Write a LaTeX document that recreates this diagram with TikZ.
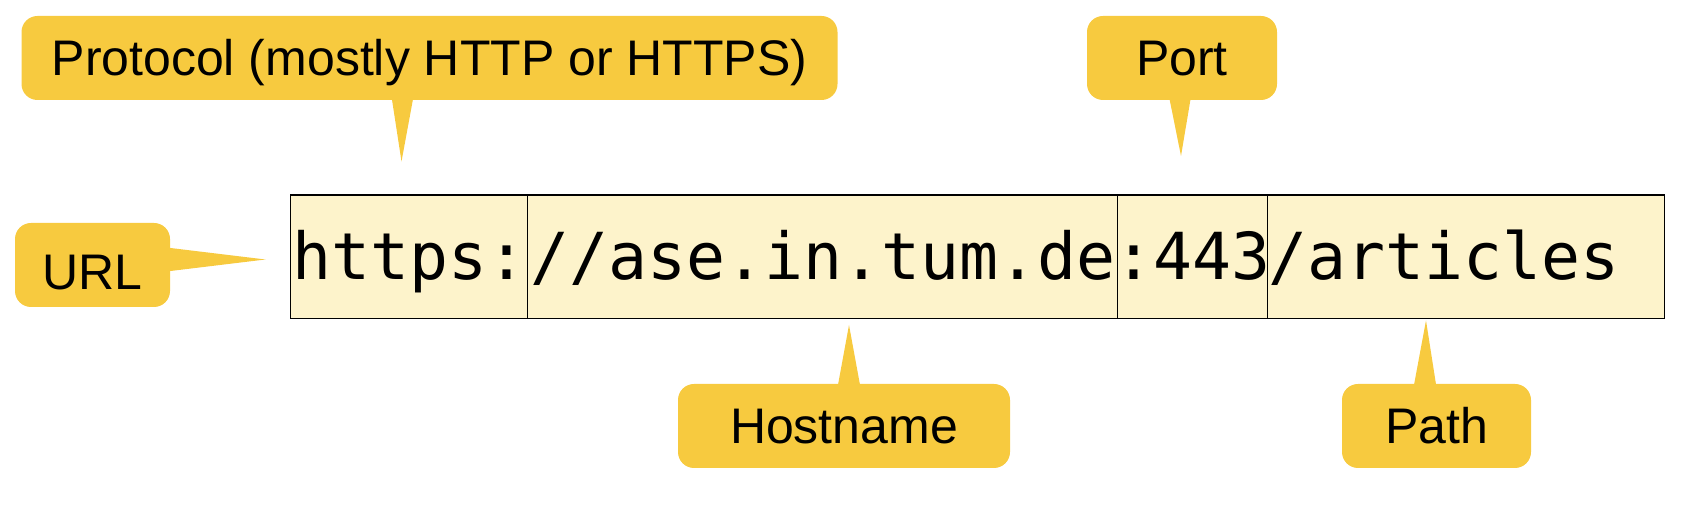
\documentclass[tikz,border=0pt]{standalone}
\usepackage{fontspec}
\setmainfont{Liberation Sans}
\newfontfamily\urlmono{DejaVu Sans Mono}
\usetikzlibrary{positioning}
\definecolor{tagfill}{HTML}{F7CA3F}
\definecolor{urlfill}{HTML}{FDF3CB}
\tikzset{
  tagbox/.style={fill=tagfill, rounded corners=8pt, minimum height=42pt,
    inner sep=0pt, text height=18pt, text depth=0pt,
    font=\fontsize{25}{30}\selectfont},
  tagtail/.style={fill=tagfill},
  urlcell/.style={draw=black, line width=0.6pt, fill=urlfill,
    minimum height=61.8pt, inner xsep=-2pt, inner ysep=0pt, outer sep=0pt,
    text height=29pt, text depth=6pt, font=\urlmono\fontsize{32.4}{36}\selectfont}
}
\begin{document}
\begin{tikzpicture}[x=0.5pt,y=-0.5pt]
  \useasboundingbox (0,0) rectangle (1688,506);

  % the url, split in its parts
  \node[urlcell, minimum width=118.5pt, anchor=west] (scheme) at (290.6,256.8) {https:};
  \node[urlcell, minimum width=295pt, right=0pt of scheme] (host) {//ase.in.tum.de};
  \node[urlcell, minimum width=74.8pt, right=0pt of host] (port) {:443};
  \node[urlcell, inner xsep=0.75pt, text width=197pt, align=left, right=0pt of port] (path) {/articles};

  % callouts
  \node[tagbox, minimum width=408pt] (protocolTag) at (429.5,58) {Protocol (mostly HTTP or HTTPS)};
  \node[tagbox, minimum width=95pt] (portTag) at (1182,58) {Port};
  \node[tagbox, minimum width=77.5pt, text height=25pt] (urlTag) at (92.5,265) {URL};
  \node[tagbox, minimum width=166pt] (hostTag) at (844,426) {Hostname};
  \node[tagbox, minimum width=94.5pt] (pathTag) at (1436.5,426) {Path};

  \coordinate (protocolTip) at (401.5,161.5);
  \coordinate (portTip) at (1181,156);
  \coordinate (urlTip) at (265.5,259.5);
  \coordinate (hostTip) at (849,325);
  \coordinate (pathTip) at (1426,320.5);

  \fill[tagtail] ([xshift=-19pt,yshift=2pt]protocolTag.south) -- (protocolTip)
    -- ([xshift=-8pt,yshift=2pt]protocolTag.south) -- cycle;
  \fill[tagtail] ([xshift=-6.5pt,yshift=2pt]portTag.south) -- (portTip)
    -- ([xshift=4.5pt,yshift=2pt]portTag.south) -- cycle;
  \fill[tagtail] ([xshift=-2pt,yshift=8.75pt]urlTag.east) -- (urlTip)
    -- ([xshift=-2pt,yshift=-3.25pt]urlTag.east) -- cycle;
  \fill[tagtail] ([xshift=-3.25pt,yshift=-2pt]hostTag.north) -- (hostTip)
    -- ([xshift=8.25pt,yshift=-2pt]hostTag.north) -- cycle;
  \fill[tagtail] ([xshift=-11.5pt,yshift=-2pt]pathTag.north) -- (pathTip)
    -- ([xshift=0pt,yshift=-2pt]pathTag.north) -- cycle;
\end{tikzpicture}
\end{document}
